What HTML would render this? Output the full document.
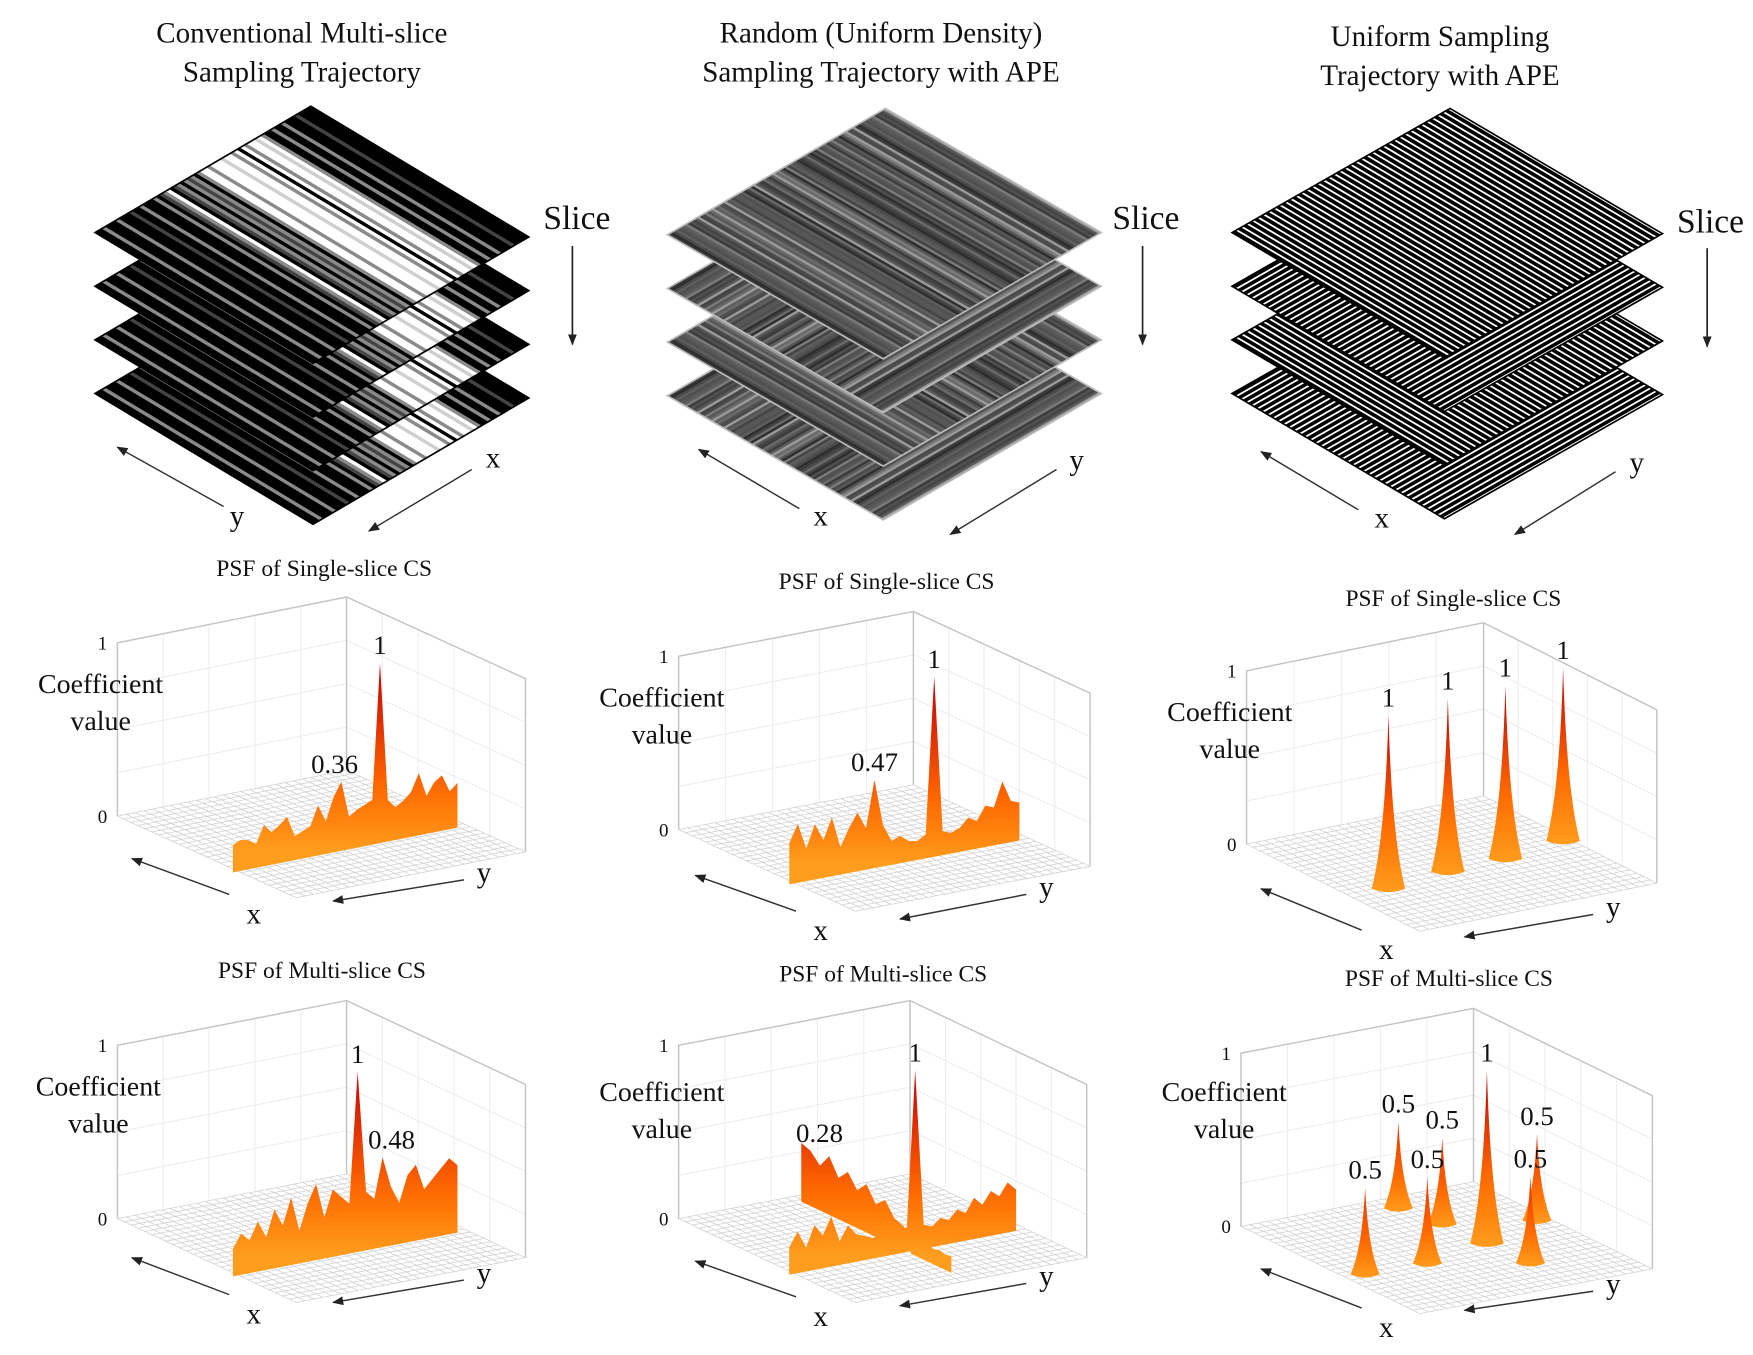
<!DOCTYPE html>
<html><head><meta charset="utf-8"><style>
html,body{margin:0;padding:0;background:#fff;}
svg{display:block;}
text{font-family:"Liberation Serif",serif;fill:#111;}
</style></head><body>
<svg id="fig" width="1753" height="1355" viewBox="0 0 1568 1212" preserveAspectRatio="none" xmlns="http://www.w3.org/2000/svg">
<defs>
<marker id="ah" markerWidth="10" markerHeight="8" refX="9" refY="4" orient="auto" markerUnits="userSpaceOnUse"><path d="M0,0 L10,4 L0,8 Z" fill="#222"/></marker>
</defs>
<g id="stacks"></g>
<g id="panels"></g>
<g id="labels">
<text x="270" y="38" font-size="26" text-anchor="middle">Conventional Multi-slice</text>
<text x="270" y="73" font-size="26" text-anchor="middle">Sampling Trajectory</text>
<text x="788" y="38" font-size="26" text-anchor="middle">Random (Uniform Density)</text>
<text x="788" y="73" font-size="26" text-anchor="middle">Sampling Trajectory with APE</text>
<text x="1288" y="41" font-size="26" text-anchor="middle">Uniform Sampling</text>
<text x="1288" y="76" font-size="26" text-anchor="middle">Trajectory with APE</text>
<text x="516" y="205" font-size="30" text-anchor="middle">Slice</text>
<text x="1025" y="205" font-size="30" text-anchor="middle">Slice</text>
<text x="1530" y="208" font-size="30" text-anchor="middle">Slice</text>
<line x1="512" y1="220" x2="512" y2="308" stroke="#222" stroke-width="1.5" marker-end="url(#ah)"/>
<line x1="1022" y1="220" x2="1022" y2="308" stroke="#222" stroke-width="1.5" marker-end="url(#ah)"/>
<line x1="1527" y1="222" x2="1527" y2="310" stroke="#222" stroke-width="1.5" marker-end="url(#ah)"/>
<line x1="200" y1="453" x2="105" y2="400" stroke="#333" stroke-width="1.3" marker-end="url(#ah)"/>
<text x="212" y="470" font-size="26" text-anchor="middle">y</text>
<line x1="422" y1="420" x2="330" y2="475" stroke="#333" stroke-width="1.3" marker-end="url(#ah)"/>
<text x="441" y="418" font-size="26" text-anchor="middle">x</text>
<line x1="715" y1="455" x2="625" y2="402" stroke="#333" stroke-width="1.3" marker-end="url(#ah)"/>
<text x="734" y="470" font-size="26" text-anchor="middle">x</text>
<line x1="945" y1="420" x2="850" y2="478" stroke="#333" stroke-width="1.3" marker-end="url(#ah)"/>
<text x="963" y="420" font-size="26" text-anchor="middle">y</text>
<line x1="1215" y1="456" x2="1128" y2="404" stroke="#333" stroke-width="1.3" marker-end="url(#ah)"/>
<text x="1236" y="472" font-size="26" text-anchor="middle">x</text>
<line x1="1445" y1="422" x2="1355" y2="478" stroke="#333" stroke-width="1.3" marker-end="url(#ah)"/>
<text x="1464" y="422" font-size="26" text-anchor="middle">y</text>
</g>
</svg>
<script>
// ---------- PSF data ----------
const psfSingleConvValues = [0.12,0.14,0.13,0.1,0.2,0.15,0.18,0.22,0.1,0.12,0.14,0.25,0.15,0.28,0.36,0.15,0.18,0.2,0.22,1.0,0.2,0.15,0.18,0.22,0.32,0.18,0.25,0.28,0.18,0.22];
const psfSingleRandValues = [0.2,0.3,0.15,0.28,0.18,0.3,0.12,0.22,0.3,0.2,0.47,0.2,0.1,0.12,0.08,0.07,0.1,1.0,0.1,0.08,0.1,0.15,0.12,0.2,0.18,0.32,0.2,0.18];
const psfSingleUnifA = [0.6,0.56,0.55,0.5];
const psfSingleUnifB = [0.16,0.44,0.69,0.97];
const psfSingleUnifV = [1,1,1,1];
const psfSingleUnifLabels = ["1","1","1","1"];
const psfMultiConvValues = [0.12,0.2,0.15,0.25,0.15,0.3,0.2,0.35,0.15,0.3,0.4,0.2,0.35,0.3,0.25,1.0,0.3,0.25,0.48,0.3,0.2,0.35,0.4,0.25,0.3,0.35,0.4,0.35];
const psfMultiRandYValues = [0.12,0.2,0.1,0.22,0.15,0.25,0.1,0.18,0.12,0.1,0.08,0.1,0.08,0.12,0.1,1.0,0.1,0.08,0.12,0.1,0.15,0.12,0.2,0.15,0.22,0.18,0.25,0.2];
const psfMultiRandXBack = [0.3,0.28,0.22,0.3,0.2,0.26,0.18,0.24,0.15,0.2,0.12,0.1];
const psfMultiRandXFront = [0.06,0.07,0.05,0.06,0.05,0.06,0.05,0.06];
const psfMultiUnifA = [0.1,0.42,0.3,0.53,0.76,0.6,0.59];
const psfMultiUnifB = [0.6,0.95,0.635,0.65,0.66,0.34,0.08];
const psfMultiUnifV = [0.5,0.5,0.5,1,0.5,0.5,0.5];
const psfMultiUnifLabels = ["0.5","0.5","0.5","1","0.5","0.5","0.5"];

const NS = "http://www.w3.org/2000/svg";
function mk(tag, attrs, parent){
  const e = document.createElementNS(NS, tag);
  for (const k in attrs) e.setAttribute(k, attrs[k]);
  if (parent) parent.appendChild(e);
  return e;
}
const stacksG = document.getElementById('stacks');
const panelsG = document.getElementById('panels');

// ---------- stacks ----------
const colorMap = {k:'#000',g:'#8a8a8a',d:'#444',w:'#fff',l:'#cfcfcf'};
const convPattern = "kkgkkkgkkkdkkgkk"+"kgkdgwkdgkgdgkg"+"wwgwwwlwwgwkwgwwlwgk"+"kgkkgkkkdkkkk";
function randGrayColors(n, seed){
  const out=[]; const shades=['#3c3c3c','#4a4a4a','#575757','#5e5e5e','#6a6a6a','#2e2e2e','#7a7a7a','#505050','#9a9a9a','#444','#555'];
  for(let i=0;i<n;i++){ out.push(shades[(i*37+seed*11+((i*i)%7))%shades.length]); }
  return out;
}
function uniformColors(n){ const o=[]; for(let i=0;i<n;i++){o.push('#000');o.push('#000');o.push('#fff');} return o; }

function drawLayer(g, L, T, R, dy, colors, dir, edge){
  const B = [L[0]+R[0]-T[0], L[1]+R[1]-T[1]];
  const P = (u,v)=>[L[0]+u*(T[0]-L[0])+v*(B[0]-L[0]), L[1]+dy+u*(T[1]-L[1])+v*(B[1]-L[1])];
  const layer = mk('g',{},g);
  
  
  const n = colors.length;
  for(let i=0;i<n;i++){
    const s0=i/n, s1=(i+1)/n+0.002;
    let pts;
    if(dir==='u') pts=[P(s0,0),P(s1,0),P(s1,1),P(s0,1)];
    else pts=[P(0,s0),P(0,s1),P(1,s1),P(1,s0)];
    mk('polygon',{points:pts.map(p=>p.join(',')).join(' '),fill:colors[i]},layer);
  }
  mk('polygon',{points:[P(0,0),P(1,0),P(1,1),P(0,1)].map(p=>p.join(',')).join(' '),fill:'none',stroke:edge,'stroke-width':1.5},layer);
}
const stackOffsets=[144,96,48,0];
stackOffsets.forEach((dy,k)=>drawLayer(stacksG,[85,208],[278,95],[473,212],dy,convPattern.split('').map(c=>colorMap[c]),'u','#000'));
stackOffsets.forEach((dy,k)=>drawLayer(stacksG,[597,210],[792,97],[985,208],dy,randGrayColors(90,k),(k%2===1)?'u':'v','#bbb'));
stackOffsets.forEach((dy,k)=>drawLayer(stacksG,[1102,208],[1297,97],[1487,209],dy,uniformColors(40),(k%2===1)?'u':'v','#000'));

// ---------- PSF panels ----------
let gradId=0;
function makePanel(cfg){
  const g = mk('g',{},panelsG);
  
  
  const L=cfg.L,F=cfg.F,R=cfg.R,H=cfg.H;
  const P=(a,b,v)=>[L[0]+a*(F[0]-L[0])+b*(R[0]-F[0]), L[1]+a*(F[1]-L[1])+b*(R[1]-F[1])-(v||0)*H];
  const pts=a=>a.map(p=>p[0].toFixed(1)+','+p[1].toFixed(1)).join(' ');
  const wallG = mk('g',{},g);
  
  
  for(let i=1;i<5;i++){ const b=i/5;
    mk('line',{x1:P(0,b,0)[0],y1:P(0,b,0)[1],x2:P(0,b,1)[0],y2:P(0,b,1)[1],stroke:'#eee','stroke-width':1},wallG);
    mk('line',{x1:P(b,1,0)[0],y1:P(b,1,0)[1],x2:P(b,1,1)[0],y2:P(b,1,1)[1],stroke:'#eee','stroke-width':1},wallG);
  }
  for(let j=1;j<4;j++){ const v=j/4;
    mk('polyline',{points:pts([P(0,0,v),P(0,1,v),P(1,1,v)]),fill:'none',stroke:'#eee','stroke-width':1},wallG);
  }
  mk('polyline',{points:pts([P(0,0,0),P(0,0,1),P(0,1,1),P(1,1,1),P(1,1,0)]),fill:'none',stroke:'#c4c4c4','stroke-width':1.3},wallG);
  mk('line',{x1:P(0,1,0)[0],y1:P(0,1,0)[1],x2:P(0,1,1)[0],y2:P(0,1,1)[1],stroke:'#c4c4c4','stroke-width':1.3},wallG);
  const floorG = mk('g',{},g);
  
  
  const N=26;
  for(let i=0;i<=N;i++){ const t=i/N;
    mk('line',{x1:P(t,0)[0],y1:P(t,0)[1],x2:P(t,1)[0],y2:P(t,1)[1],stroke:'#d2d2d2','stroke-width':0.7},floorG);
    mk('line',{x1:P(0,t)[0],y1:P(0,t)[1],x2:P(1,t)[0],y2:P(1,t)[1],stroke:'#d2d2d2','stroke-width':0.7},floorG);
  }
  const t1=mk('text',{x:P(0,0,1)[0]-9,y:P(0,0,1)[1]+6,'font-size':17,'text-anchor':'end'},g); t1.textContent='1';
   
  const t0=mk('text',{x:P(0,0,0)[0]-9,y:P(0,0,0)[1]+6,'font-size':17,'text-anchor':'end'},g); t0.textContent='0';
   
  const ti=mk('text',{x:cfg.title[0],y:cfg.title[1],'font-size':21,'text-anchor':'middle'},g); ti.textContent=cfg.titleText;
   
  const c1=mk('text',{x:cfg.coef[0],y:cfg.coef[1],'font-size':25,'text-anchor':'middle'},g); c1.textContent='Coefficient';
   
  const c2=mk('text',{x:cfg.coef[0],y:cfg.coef[1]+33,'font-size':25,'text-anchor':'middle'},g); c2.textContent='value';
   
  const gid='grad'+(gradId++);
  const base=P(0.6,0.5,0);
  const lg=mk('linearGradient',{id:gid,gradientUnits:'userSpaceOnUse',x1:0,y1:base[1]+8,x2:0,y2:base[1]-H},document.querySelector('defs'));
  mk('stop',{offset:'0','stop-color':'#ff9d1e'},lg);
  mk('stop',{offset:'0.35','stop-color':'#ff6a00'},lg);
  mk('stop',{offset:'1','stop-color':'#c80000'},lg);
  const fill='url(#'+gid+')';
  (cfg.ridges||[]).forEach(r=>{
    const n=r.values.length; const top=[];
    for(let i=0;i<n;i++){
      const s=r.from+(r.to-r.from)*i/(n-1);
      top.push(r.fixed==='a'?P(r.at,s,r.values[i]):P(s,r.at,r.values[i]));
    }
    const e0=r.fixed==='a'?P(r.at,r.from,0):P(r.from,r.at,0);
    const e1=r.fixed==='a'?P(r.at,r.to,0):P(r.to,r.at,0);
    const poly=[[e0[0],e0[1]+6]].concat(top).concat([[e1[0],e1[1]+6]]);
    const el=mk('polygon',{points:pts(poly),fill:fill},g);
    
    
  });
  if(cfg.spikes){
    const sp=cfg.spikes;
    for(let i=0;i<sp.a.length;i++){
      const b=P(sp.a[i],sp.b[i],0), h=sp.v[i]*H, w=sp.v[i]>0.75?15:13;
      const d='M'+(b[0]-w)+','+b[1]+' Q'+(b[0]-w*0.2)+','+(b[1]-h*0.3)+' '+b[0]+','+(b[1]-h)+' Q'+(b[0]+w*0.2)+','+(b[1]-h*0.3)+' '+(b[0]+w)+','+b[1]+' Q'+b[0]+','+(b[1]+6)+' '+(b[0]-w)+','+b[1]+' Z';
      const lg2=mk('linearGradient',{id:gid+'s'+i,gradientUnits:'userSpaceOnUse',x1:0,y1:b[1]+4,x2:0,y2:b[1]-h},document.querySelector('defs'));
      mk('stop',{offset:'0','stop-color':'#ff9d1e'},lg2);
      mk('stop',{offset:'0.4','stop-color':'#ff6a00'},lg2);
      mk('stop',{offset:'1','stop-color':sp.v[i]>0.75?'#c00000':'#e83000'},lg2);
      const el=mk('path',{d:d,fill:'url(#'+gid+'s'+i+')'},g);
      
      
      const tx=mk('text',{x:b[0],y:b[1]-h-8,'font-size':24,'text-anchor':'middle'},g);
      tx.textContent=sp.labels[i];
      
      
    }
  }
  (cfg.ridgeLabels||[]).forEach(lb=>{
    const r=cfg.ridges[lb.ridge]; const n=r.values.length;
    const s=r.from+(r.to-r.from)*lb.idx/(n-1);
    const p=r.fixed==='a'?P(r.at,s,r.values[lb.idx]):P(s,r.at,r.values[lb.idx]);
    const tx=mk('text',{x:p[0]+(lb.dx||0),y:p[1]-8,'font-size':24,'text-anchor':'middle'},g);
    tx.textContent=lb.text;
    
    
  });
  const ax=cfg.arrows;
  const a1=mk('line',{x1:ax[0],y1:ax[1],x2:ax[2],y2:ax[3],stroke:'#333','stroke-width':1.3,'marker-end':'url(#ah)'},g);
   
  const xl=mk('text',{x:ax[0]+22,y:ax[1]+26,'font-size':26,'text-anchor':'middle'},g); xl.textContent='x';
   
  const a2=mk('line',{x1:ax[4],y1:ax[5],x2:ax[6],y2:ax[7],stroke:'#333','stroke-width':1.3,'marker-end':'url(#ah)'},g);
   
  const yl=mk('text',{x:ax[4]+18,y:ax[5]+2,'font-size':26,'text-anchor':'middle'},g); yl.textContent='y';
   
}

makePanel({name:'psf-single-conventional',L:[105,730],F:[265,803],R:[470,762],H:155,title:[290,515],titleText:'PSF of Single-slice CS',coef:[90,620],
  ridges:[{fixed:'a',at:0.62,from:0.02,to:1,values:psfSingleConvValues}],ridgeLabels:[{ridge:0,idx:14,text:'0.36',dx:-6},{ridge:0,idx:19,text:'1'}],
  arrows:[205,800,118,768,415,787,298,806]});
makePanel({name:'psf-single-random',L:[607,742],F:[765,815],R:[975,775],H:155,title:[793,527],titleText:'PSF of Single-slice CS',coef:[592,632],
  ridges:[{fixed:'a',at:0.6,from:0.02,to:1,values:psfSingleRandValues}],ridgeLabels:[{ridge:0,idx:10,text:'0.47'},{ridge:0,idx:17,text:'1'}],
  arrows:[712,815,622,783,918,800,805,822]});
makePanel({name:'psf-single-uniform',L:[1115,755],F:[1270,833],R:[1482,790],H:155,title:[1300,542],titleText:'PSF of Single-slice CS',coef:[1100,645],
  spikes:{a:psfSingleUnifA,b:psfSingleUnifB,v:psfSingleUnifV,labels:psfSingleUnifLabels},
  arrows:[1218,832,1128,795,1425,818,1310,838]});
makePanel({name:'psf-multi-conventional',L:[105,1090],F:[265,1165],R:[470,1125],H:155,title:[288,875],titleText:'PSF of Multi-slice CS',coef:[88,980],
  ridges:[{fixed:'a',at:0.62,from:0.02,to:1,values:psfMultiConvValues}],ridgeLabels:[{ridge:0,idx:15,text:'1'},{ridge:0,idx:18,text:'0.48',dx:8}],
  arrows:[205,1158,118,1125,415,1145,298,1165]});
makePanel({name:'psf-multi-random',L:[607,1090],F:[765,1165],R:[972,1125],H:155,title:[790,878],titleText:'PSF of Multi-slice CS',coef:[592,985],
  ridges:[{fixed:'b',at:0.53,from:0,to:0.58,values:psfMultiRandXBack},{fixed:'a',at:0.6,from:0.02,to:1,values:psfMultiRandYValues},{fixed:'b',at:0.53,from:0.62,to:0.85,values:psfMultiRandXFront}],
  ridgeLabels:[{ridge:0,idx:1,text:'0.28',dx:8},{ridge:1,idx:15,text:'1'}],
  arrows:[712,1160,622,1128,918,1148,805,1168]});
makePanel({name:'psf-multi-uniform',L:[1110,1097],F:[1270,1175],R:[1478,1135],H:155,title:[1296,882],titleText:'PSF of Multi-slice CS',coef:[1095,985],
  spikes:{a:psfMultiUnifA,b:psfMultiUnifB,v:psfMultiUnifV,labels:psfMultiUnifLabels},
  arrows:[1218,1170,1128,1135,1425,1155,1310,1172]});
</script>
</body></html>
